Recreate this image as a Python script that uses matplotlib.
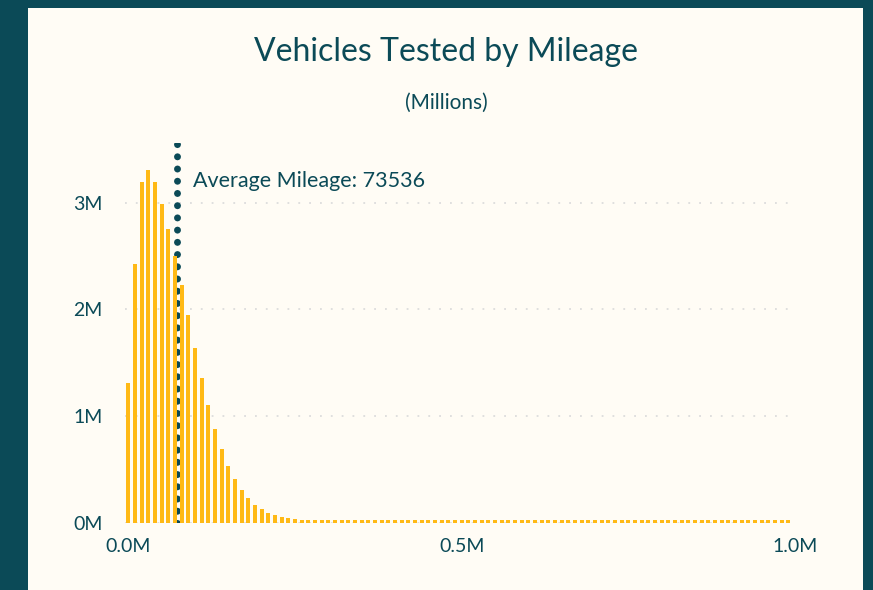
import matplotlib.pyplot as plt
from matplotlib.patches import Rectangle
from matplotlib.ticker import FuncFormatter, MultipleLocator
import numpy as np

plt.rcParams['font.family'] = ['Lato', 'DejaVu Sans']

teal = '#0B4A57'
cream = '#FFFCF5'
bar_color = '#FFB915'

# make data: vehicles per 10k-mile bin (millions), bins start at 0
bin_start_k = np.arange(0, 1000, 10)
vehicles_m = [
    1.306, 2.425, 3.194, 3.306, 3.194, 2.988, 2.753, 2.500, 2.228, 1.947,
    1.638, 1.356, 1.103, 0.878, 0.691, 0.531, 0.410, 0.306, 0.231, 0.166,
    0.128, 0.092, 0.072, 0.053, 0.044, 0.034, 0.030, 0.028, 0.026, 0.025,
    0.025, 0.025, 0.025, 0.025, 0.025, 0.025, 0.025, 0.025, 0.025, 0.025,
    0.025, 0.025, 0.025, 0.025, 0.025, 0.025, 0.025, 0.025, 0.025, 0.025,
    0.025, 0.025, 0.025, 0.025, 0.025, 0.025, 0.025, 0.025, 0.025, 0.025,
    0.025, 0.025, 0.025, 0.025, 0.025, 0.025, 0.025, 0.025, 0.025, 0.025,
    0.025, 0.025, 0.025, 0.025, 0.025, 0.025, 0.025, 0.025, 0.025, 0.025,
    0.025, 0.025, 0.025, 0.025, 0.025, 0.025, 0.025, 0.025, 0.025, 0.025,
    0.025, 0.025, 0.025, 0.025, 0.025, 0.025, 0.025, 0.025, 0.025, 0.025,
]
avg_mileage = 73536

x = bin_start_k * 1000
y = np.array(vehicles_m) * 1e6

fig = plt.figure(figsize=(8.73, 5.90), dpi=100, facecolor=teal)
# cream card inside teal frame
fig.patches.append(Rectangle((28 / 873, 0), 835 / 873, 582 / 590,
                             transform=fig.transFigure, facecolor=cream,
                             edgecolor='none', zorder=-5))

ax = fig.add_axes([125 / 873, 1 - 522.7 / 590, 670 / 873, 379.7 / 590])
ax.set_facecolor('none')

ax.axvline(avg_mileage, color=teal, linewidth=5,
           linestyle=(0, (0.01, 1.75)), dash_capstyle='round', zorder=2)
ax.bar(x, y, width=6000, color=bar_color, zorder=3)

ax.text(avg_mileage + 23000, 3.2e6, f'Average Mileage: {avg_mileage}',
        color=teal, fontsize=15.5, va='center', ha='left')

ax.set_xlim(-5000, 1000000)
ax.set_ylim(0, 3.56e6)
ax.yaxis.set_major_locator(MultipleLocator(1e6))
ax.xaxis.set_major_locator(MultipleLocator(5e5))
ax.yaxis.set_major_formatter(FuncFormatter(lambda v, p: f'{v / 1e6:.0f}M'))
ax.xaxis.set_major_formatter(FuncFormatter(lambda v, p: f'{v / 1e6:.1f}M'))
ax.grid(axis='y', color='#DCDCDC', linestyle=(0, (1, 5)), linewidth=1.3, zorder=1)
ax.set_axisbelow(True)
for s in ax.spines.values():
    s.set_visible(False)
ax.tick_params(length=0, labelsize=14, labelcolor=teal)
ax.tick_params(axis='y', pad=16)
ax.tick_params(axis='x', pad=11)

fig.text(446 / 873, 1 - 52 / 590, 'Vehicles Tested by Mileage', color=teal,
         fontsize=23, ha='center', va='center')
fig.text(446 / 873, 1 - 103 / 590, '(Millions)', color=teal,
         fontsize=15, ha='center', va='center')

fig.savefig('out.png', dpi=100, facecolor=teal)
